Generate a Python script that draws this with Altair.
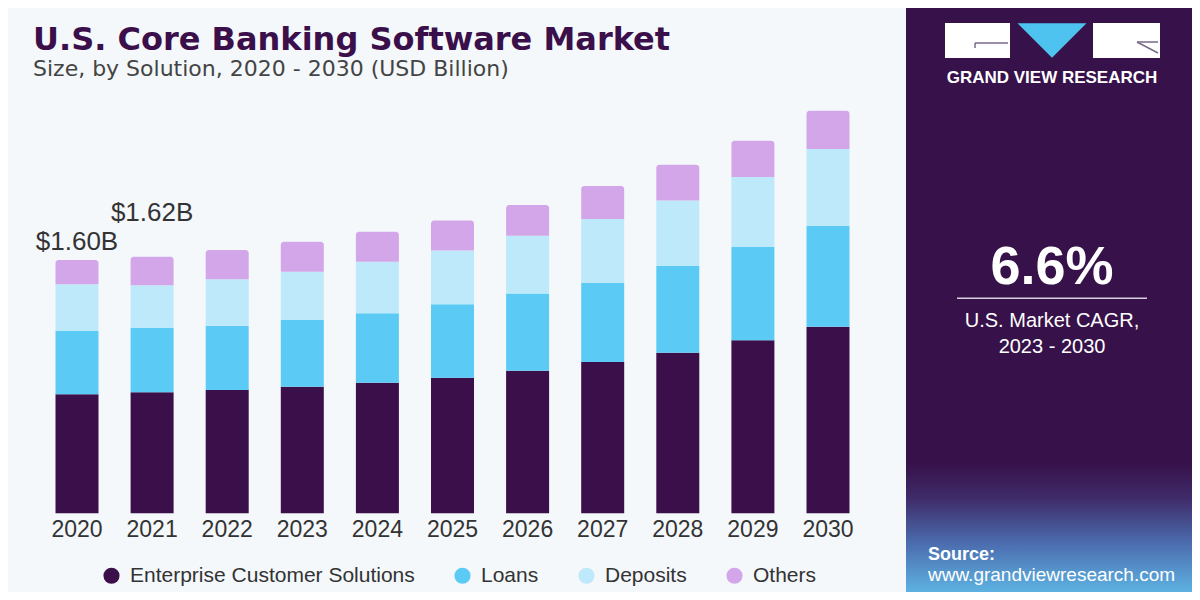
import altair as alt
import pandas as pd

# ---------------- data ----------------
years = ["2020", "2021", "2022", "2023", "2024", "2025", "2026", "2027", "2028", "2029", "2030"]
segments = ["Enterprise Customer Solutions", "Loans", "Deposits", "Others"]
enterprise = [0.752, 0.764, 0.779, 0.800, 0.825, 0.857, 0.901, 0.956, 1.015, 1.093, 1.179]
loans      = [0.400, 0.408, 0.406, 0.421, 0.438, 0.464, 0.488, 0.501, 0.548, 0.589, 0.636]
deposits   = [0.295, 0.268, 0.293, 0.305, 0.326, 0.339, 0.364, 0.402, 0.413, 0.442, 0.486]
others     = [0.153, 0.180, 0.185, 0.190, 0.190, 0.190, 0.195, 0.208, 0.226, 0.229, 0.242]
label_years = ["2020", "2021"]
label_texts = ["$1.60B", "$1.62B"]
colors = ["#3A0F4A", "#5BCBF5", "#BEE9FA", "#D3A6EA"]

rows = []
for i, y in enumerate(years):
    base = 0.0
    for seg, vals in zip(segments, [enterprise, loans, deposits, others]):
        v = vals[i]
        rows.append({"year": y, "segment": seg, "order": segments.index(seg),
                     "y0": base, "y1": base + v, "value": v})
        base += v
df = pd.DataFrame(rows)
totals = df.groupby("year", as_index=False)["y1"].max().rename(columns={"y1": "total"})
lab = totals[totals["year"].isin(label_years)].copy()
lab["text"] = [label_texts[label_years.index(y)] for y in lab["year"]]

W, H = 1184, 584
BG = "#F4F8FB"
PANEL = "#37114A"

xscale = alt.Scale(domain=years, range=[15.4, 873.6], paddingInner=0.4275, paddingOuter=0.4275)
yscale = alt.Scale(domain=[0, 3], range=[505.3, 30.4])
cscale = alt.Scale(domain=segments, range=colors)

legend = alt.Legend(orient="none", legendX=93, legendY=557, direction="horizontal", title=None,
                    symbolType="circle", symbolSize=260, symbolStrokeWidth=0, symbolOpacity=1,
                    labelFont="Liberation Sans", labelFontSize=21, labelColor="#333333",
                    labelLimit=400, columnPadding=37, labelOffset=8)

base = alt.Chart(df)
bars = base.transform_filter(alt.datum.segment != "Others").mark_bar(size=43).encode(
    x=alt.X("year:O", scale=xscale, axis=None),
    y=alt.Y("y0:Q", scale=yscale, axis=None),
    y2="y1:Q",
    color=alt.Color("segment:N", scale=cscale, legend=legend, sort=segments),
)
tops = base.transform_filter(alt.datum.segment == "Others").mark_bar(
    size=43, cornerRadiusTopLeft=3, cornerRadiusTopRight=3).encode(
    x=alt.X("year:O", scale=xscale, axis=None),
    y=alt.Y("y0:Q", scale=yscale, axis=None),
    y2="y1:Q",
    color=alt.Color("segment:N", scale=cscale, legend=legend, sort=segments),
)

year_labels = alt.Chart(totals).mark_text(font="Liberation Sans", fontSize=23, color="#333333",
                                          baseline="middle").encode(
    x=alt.X("year:O", scale=xscale, axis=None),
    y=alt.value(522),
    text="year:N",
)

lab20 = alt.Chart(lab[lab["year"] == "2020"]).mark_text(font="Liberation Sans", fontSize=26,
                                                         color="#333333", dy=-18).encode(
    x=alt.X("year:O", scale=xscale, axis=None),
    y=alt.Y("total:Q", scale=yscale, axis=None),
    text="text:N",
)
lab21 = alt.Chart(lab[lab["year"] == "2021"]).mark_text(font="Liberation Sans", fontSize=26,
                                                         color="#333333", dy=-44).encode(
    x=alt.X("year:O", scale=xscale, axis=None),
    y=alt.Y("total:Q", scale=yscale, axis=None),
    text="text:N",
)

one = alt.Data(values=[{"k": 1}])


def txt(s, x, y, size, color="#FFFFFF", weight="normal", align="left", font="Liberation Sans",
        baseline="alphabetic"):
    return alt.Chart(one).mark_text(text=s, fontSize=size, color=color, fontWeight=weight,
                                    align=align, font=font, baseline=baseline).encode(
        x=alt.value(x), y=alt.value(y))


def rect(x, x2, y, y2, color, opacity=1):
    return alt.Chart(one).mark_rect(color=color, opacity=opacity).encode(
        x=alt.value(x), x2=alt.value(x2), y=alt.value(y), y2=alt.value(y2))


def rule(x, x2, y, y2, color, w, opacity=1):
    return alt.Chart(one).mark_rule(color=color, strokeWidth=w, opacity=opacity).encode(
        x=alt.value(x), x2=alt.value(x2), y=alt.value(y), y2=alt.value(y2))


title = txt("U.S. Core Banking Software Market", 25, 42, 32, color="#3A0F4A", weight="bold",
            font="DejaVu Sans")
subtitle = txt("Size, by Solution, 2020 - 2030 (USD Billion)", 25, 68, 22, color="#444444",
               font="DejaVu Sans")

panel = rect(898, W, 0, H, PANEL)
grad = alt.Gradient(gradient="linear", x1=0, x2=0, y1=0, y2=1,
                    stops=[alt.GradientStop(color=PANEL, offset=0),
                           alt.GradientStop(color="#3F2C6A", offset=0.28),
                           alt.GradientStop(color="#4B6CAE", offset=0.62),
                           alt.GradientStop(color="#5DB2E2", offset=1)])
panel_bottom = alt.Chart(one).mark_rect(color=grad).encode(
    x=alt.value(898), x2=alt.value(W), y=alt.value(455), y2=alt.value(H))

logo_l = rect(937, 1002, 15, 50, "#FFFFFF")
logo_r = rect(1085, 1152, 15, 50, "#FFFFFF")
logo_g1 = rule(967, 1000, 35, 35, "#7A6A8A", 1.5)
logo_g2 = rule(967, 967, 35, 40, "#7A6A8A", 1.5)
logo_r1 = rule(1129, 1150, 34, 34, "#7A6A8A", 1.5)
logo_r2 = rule(1129, 1150, 34, 45, "#7A6A8A", 1.5)
tri = alt.Chart(one).mark_point(shape="M -1 -0.5 L 1 -0.5 L 0 0.5 Z", filled=True, opacity=1,
                                color="#4EC3F0", size=4761, strokeWidth=0).encode(
    x=alt.value(1044), y=alt.value(32.5))
logo_text = txt("GRAND VIEW RESEARCH", 1044, 75, 17, weight="bold", align="center")

cagr = txt("6.6%", 1044, 276, 54, weight="bold", align="center")
cagr_line = rule(949, 1139, 290.3, 290.3, "#D8D0E0", 1.5)
cagr_t1 = txt("U.S. Market CAGR,", 1044, 312.7, 20, align="center", baseline="middle")
cagr_t2 = txt("2023 - 2030", 1044, 338.7, 20, align="center", baseline="middle")

src1 = txt("Source:", 920, 552, 18, weight="bold")
src2 = txt("www.grandviewresearch.com", 920, 573, 19)

chart = alt.layer(
    bars, tops, year_labels, lab20, lab21, title, subtitle,
    panel, panel_bottom, logo_l, logo_r, logo_g1, logo_g2, logo_r1, logo_r2, tri, logo_text,
    cagr, cagr_line, cagr_t1, cagr_t2, src1, src2,
).properties(
    width=W, height=H, padding=0, background=BG,
    autosize=alt.AutoSizeParams(type="none"),
).configure_view(stroke=None, fill=BG)

chart.save("out.html", embed_options={"renderer": "svg", "actions": False})
